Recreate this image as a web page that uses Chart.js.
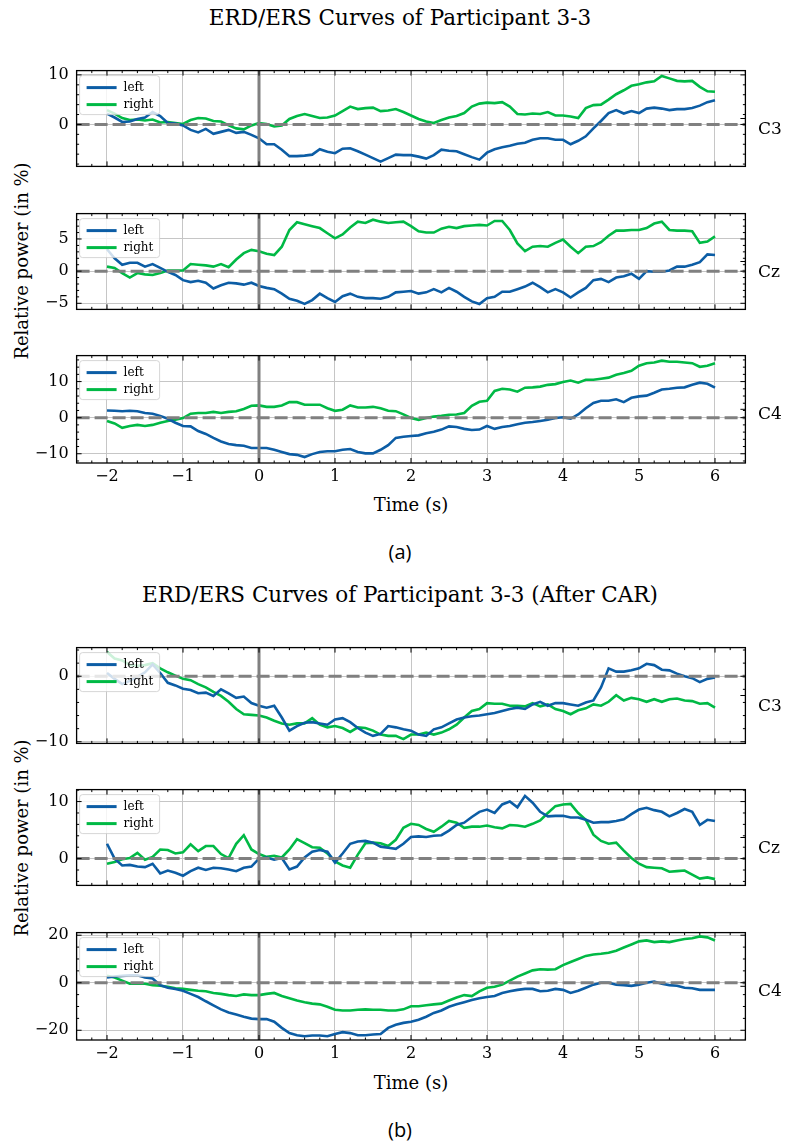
<!DOCTYPE html>
<html>
<head>
<meta charset="utf-8">
<title>ERD/ERS Curves of Participant 3-3</title>
<script src="https://cdn.jsdelivr.net/npm/chart.js@4.4.1/dist/chart.umd.min.js"></script>
<style>
  body { margin: 0; background: #fff; }
  #page { position: relative; width: 789px; height: 1148px; overflow: hidden; font-family: "DejaVu Serif", serif; color: #000; }
  .lbl { position: absolute; white-space: nowrap; line-height: 1; transform: translate(-50%, -50%); }
  .side { position: absolute; white-space: nowrap; line-height: 1; transform: translateY(-50%); font-size: 17px; }
  .cap { font-family: "Open Sans", sans-serif; font-size: 20px; }
  canvas { position: absolute; left: 0; }
</style>
</head>
<body>
<div id="page">
  <div class="lbl" style="left:400px;top:18px;font-size:21.5px">ERD/ERS Curves of Participant 3-3</div>
  <div class="lbl" style="left:22px;top:261px;font-size:18px;transform:translate(-50%,-50%) rotate(-90deg)">Relative power (in %)</div>
  <div class="lbl" style="left:411px;top:505px;font-size:18px">Time (s)</div>
  <div class="lbl cap" style="left:400px;top:552px">(a)</div>

  <div class="lbl" style="left:400px;top:595px;font-size:21.5px">ERD/ERS Curves of Participant 3-3 (After CAR)</div>
  <div class="lbl" style="left:22px;top:838px;font-size:18px;transform:translate(-50%,-50%) rotate(-90deg)">Relative power (in %)</div>
  <div class="lbl" style="left:411px;top:1083px;font-size:18px">Time (s)</div>
  <div class="lbl cap" style="left:400px;top:1130px">(b)</div>
</div>
<script>
// time axis (s), 0.1 s steps
const times = [
  -2.0, -1.9, -1.8, -1.7, -1.6, -1.5, -1.4, -1.3, -1.2, -1.1,
  -1.0, -0.9, -0.8, -0.7, -0.6, -0.5, -0.4, -0.3, -0.2, -0.1,
  0.0, 0.1, 0.2, 0.3, 0.4, 0.5, 0.6, 0.7, 0.8, 0.9,
  1.0, 1.1, 1.2, 1.3, 1.4, 1.5, 1.6, 1.7, 1.8, 1.9,
  2.0, 2.1, 2.2, 2.3, 2.4, 2.5, 2.6, 2.7, 2.8, 2.9,
  3.0, 3.1, 3.2, 3.3, 3.4, 3.5, 3.6, 3.7, 3.8, 3.9,
  4.0, 4.1, 4.2, 4.3, 4.4, 4.5, 4.6, 4.7, 4.8, 4.9,
  5.0, 5.1, 5.2, 5.3, 5.4, 5.5, 5.6, 5.7, 5.8, 5.9,
  6.0
];

// (a) raw curves
const aC3Left = [
  2.2, 1.4, 0.5, 0.6, 1.1, 1.4, 2.5, 1.7, 0.3, 0.2,
  -0.2, -1.1, -1.6, -0.9, -1.9, -1.5, -1.1, -1.7, -1.5, -2.1,
  -2.8, -4.0, -4.0, -5.1, -6.4, -6.4, -6.3, -6.1, -5.0, -5.5,
  -5.8, -4.9, -4.8, -5.4, -6.1, -6.8, -7.5, -6.8, -6.1, -6.2,
  -6.2, -6.5, -6.9, -6.2, -5.1, -5.3, -5.4, -6.0, -6.6, -7.1,
  -5.7, -5.0, -4.6, -4.3, -3.9, -3.7, -3.1, -2.8, -2.8, -3.1,
  -3.1, -4.0, -3.3, -2.4, -0.8, 0.7, 2.3, 2.9, 2.2, 2.7,
  2.3, 3.2, 3.4, 3.2, 2.9, 3.1, 3.1, 3.3, 3.8, 4.5,
  4.9
];
const aC3Right = [
  2.9, 2.2, 1.3, 0.9, 1.0, 0.8, 1.0, 0.4, 0.5, 0.3,
  0.1, 0.9, 1.3, 1.2, 0.7, 0.6, -0.2, -0.8, -1.0, -0.2,
  0.3, 0.1, -0.4, -0.2, 1.1, 1.7, 2.1, 1.7, 1.3, 1.4,
  1.8, 2.7, 3.6, 3.1, 3.3, 3.4, 2.7, 2.8, 3.1, 2.5,
  1.8, 1.1, 0.6, 0.3, 0.9, 1.4, 1.7, 2.3, 3.6, 4.2,
  4.4, 4.3, 4.5, 3.6, 2.1, 2.0, 2.2, 2.1, 2.5, 1.8,
  1.8, 1.6, 1.3, 3.3, 3.9, 4.0, 5.0, 6.1, 6.9, 7.8,
  8.1, 8.5, 8.7, 9.8, 9.3, 8.8, 8.7, 8.8, 7.6, 6.7,
  6.6
];
const aCzLeft = [
  3.4, 2.0, 1.0, 1.3, 1.3, 0.7, 1.1, 0.5, -0.1, -0.6,
  -1.4, -1.7, -1.5, -1.8, -2.7, -2.2, -1.8, -1.9, -2.1, -1.8,
  -2.3, -2.6, -2.8, -3.5, -4.3, -4.6, -5.1, -4.5, -3.5, -4.2,
  -4.8, -3.9, -3.5, -4.0, -4.2, -4.2, -4.3, -4.0, -3.3, -3.2,
  -3.1, -3.5, -3.3, -2.8, -3.3, -2.6, -3.2, -4.0, -4.7, -5.1,
  -4.2, -4.0, -3.2, -3.2, -2.8, -2.4, -1.8, -2.5, -3.3, -2.8,
  -3.3, -4.1, -3.3, -2.6, -1.4, -1.2, -1.7, -1.0, -0.8, -0.4,
  -1.2, 0.0, -0.1, -0.1, 0.1, 0.7, 0.7, 1.0, 1.4, 2.6,
  2.5
];
const aCzRight = [
  0.7, 0.5, -0.3, -1.0, -0.3, -0.5, -0.6, -0.3, 0.1, 0.1,
  0.1, 1.1, 1.0, 0.9, 0.7, 1.1, 0.6, 1.8, 2.8, 3.3,
  3.1, 2.7, 2.5, 3.8, 6.4, 7.6, 7.3, 7.0, 6.7, 5.9,
  5.1, 5.7, 6.8, 7.7, 7.5, 8.0, 7.7, 7.5, 7.6, 7.7,
  7.0, 6.2, 6.0, 6.0, 6.6, 6.9, 6.7, 7.0, 7.1, 7.2,
  7.1, 7.8, 7.8, 6.4, 4.3, 3.1, 3.8, 3.9, 3.8, 4.4,
  4.9, 3.8, 2.8, 3.8, 3.9, 4.5, 5.5, 6.3, 6.3, 6.4,
  6.4, 6.7, 7.4, 7.7, 6.4, 6.3, 6.3, 6.2, 4.4, 4.6,
  5.4
];
const aC4Left = [
  2.0, 1.9, 1.8, 1.9, 1.8, 1.3, 1.1, 0.5, -0.3, -1.4,
  -2.3, -2.4, -3.7, -4.5, -5.6, -6.6, -7.3, -7.6, -7.8, -8.4,
  -8.4, -8.4, -8.9, -9.5, -10.1, -10.3, -10.9, -10.1, -9.5, -9.3,
  -9.3, -8.9, -8.7, -9.5, -9.9, -9.9, -8.9, -7.6, -5.6, -5.3,
  -5.1, -4.9, -4.3, -3.9, -3.3, -2.4, -2.6, -3.1, -3.4, -3.3,
  -2.3, -3.1, -2.6, -2.3, -1.8, -1.4, -1.2, -0.9, -0.6, -0.1,
  0.1, -0.3, 0.9, 2.6, 4.1, 4.7, 4.7, 5.1, 4.3, 5.5,
  5.9, 6.1, 6.9, 7.8, 8.0, 8.3, 8.4, 9.1, 9.7, 9.4,
  8.3
];
const aC4Right = [
  -0.9, -1.6, -2.8, -2.3, -2.0, -2.3, -2.0, -1.4, -0.9, -0.6,
  -0.1, 1.1, 1.3, 1.3, 1.6, 1.3, 1.6, 1.8, 2.4, 3.3,
  3.4, 3.0, 3.0, 3.4, 4.3, 4.3, 3.6, 3.6, 3.6, 2.6,
  1.9, 2.2, 3.4, 2.8, 2.8, 3.0, 2.6, 1.9, 1.8, 0.9,
  -0.1, -0.6, -0.1, 0.3, 0.5, 0.8, 0.9, 1.3, 3.3, 4.4,
  4.7, 7.4, 8.0, 7.8, 7.2, 8.3, 8.4, 8.6, 9.1, 9.3,
  9.9, 10.3, 9.7, 10.5, 10.5, 10.8, 11.1, 11.9, 12.4, 13.0,
  14.4, 15.1, 15.3, 15.8, 15.5, 15.5, 15.3, 15.1, 14.1, 14.4,
  15.1
];

// (b) after common average reference
const bC3Left = [
  0.5, -0.4, -1.2, -0.7, -0.1, 0.6, 1.8, 0.5, -1.0, -1.4,
  -1.9, -2.1, -2.6, -2.5, -3.0, -2.0, -2.6, -3.3, -3.1, -4.1,
  -4.5, -4.8, -4.5, -6.3, -8.3, -7.6, -7.1, -7.0, -7.2, -7.4,
  -6.6, -6.4, -7.0, -7.9, -8.6, -9.1, -8.8, -7.6, -7.8, -8.1,
  -8.3, -8.9, -9.1, -8.1, -7.8, -7.2, -6.6, -6.3, -6.1, -6.0,
  -5.8, -5.6, -5.3, -5.0, -4.8, -5.0, -4.3, -3.9, -4.5, -4.1,
  -4.1, -4.3, -4.5, -4.0, -3.7, -1.7, 1.2, 0.7, 0.7, 0.9,
  1.2, 1.9, 1.7, 1.0, 0.9, 0.4, 0.0, -0.3, -0.9, -0.4,
  -0.2
];
const bC3Right = [
  3.7, 2.7, 2.4, 1.7, 1.6, 1.7, 2.0, 1.2, 0.6, 0.1,
  -0.4, -0.6, -1.2, -1.7, -2.4, -3.0, -3.9, -5.0, -5.8, -5.9,
  -6.0, -6.3, -6.8, -7.2, -7.4, -7.2, -7.2, -6.4, -7.4, -7.8,
  -7.6, -7.9, -8.5, -7.8, -7.9, -8.3, -8.9, -9.1, -9.1, -9.6,
  -8.9, -8.9, -8.6, -8.9, -8.6, -8.1, -7.4, -6.3, -5.3, -5.0,
  -4.1, -4.2, -4.2, -4.5, -4.5, -4.6, -4.1, -4.6, -4.3, -5.0,
  -5.3, -5.8, -5.2, -4.9, -4.3, -4.5, -3.9, -2.9, -3.7, -3.3,
  -3.5, -3.9, -3.5, -3.9, -3.5, -3.4, -3.7, -3.8, -4.2, -4.1,
  -4.8
];
const bCzLeft = [
  2.6, 0.0, -1.2, -1.1, -1.4, -1.5, -0.9, -2.6, -2.1, -2.5,
  -3.0, -2.2, -1.6, -2.0, -1.6, -1.7, -1.9, -2.2, -1.6, -1.4,
  0.0, 0.2, -0.2, 0.1, -1.9, -1.4, 0.2, 1.2, 1.5, 1.2,
  -0.7, 0.9, 2.6, 3.0, 3.1, 2.8, 2.1, 1.9, 1.7, 2.6,
  3.8, 3.9, 3.8, 4.0, 4.1, 4.9, 5.9, 6.3, 7.3, 8.2,
  8.6, 8.0, 9.5, 10.0, 9.0, 11.0, 9.8, 8.2, 7.4, 7.5,
  7.5, 7.2, 7.2, 6.8, 6.3, 6.4, 6.4, 6.6, 6.9, 7.8,
  8.6, 8.9, 8.5, 8.2, 7.4, 8.0, 8.7, 8.2, 5.9, 6.8,
  6.6
];
const bCzRight = [
  -0.9, -0.6, -0.1, 0.1, 1.0, -0.2, 0.3, 1.6, 1.5, 0.9,
  1.1, 2.5, 1.3, 2.2, 2.2, 0.8, 0.1, 2.6, 4.1, 1.6,
  0.8, 0.3, 0.5, 0.2, 1.6, 3.4, 2.7, 2.0, 1.9, 0.9,
  -0.5, -1.2, -1.6, 0.7, 2.7, 2.8, 2.7, 2.2, 3.3, 5.4,
  6.1, 5.9, 5.2, 4.7, 5.6, 6.6, 6.3, 5.4, 5.6, 5.6,
  5.8, 5.5, 5.3, 5.9, 5.8, 5.6, 6.1, 6.7, 8.0, 9.2,
  9.5, 9.6, 8.0, 6.8, 4.2, 3.1, 2.6, 2.8, 1.4, 0.1,
  -0.9, -1.5, -1.6, -1.7, -2.3, -2.2, -2.1, -2.8, -3.5, -3.3,
  -3.6
];
const bC4Left = [
  2.2, 2.6, 2.9, 3.1, 3.1, 2.2, 1.8, -1.0, -2.1, -2.6,
  -3.4, -4.7, -6.0, -7.8, -9.5, -11.2, -12.5, -13.4, -14.3, -15.1,
  -15.3, -15.3, -16.4, -19.0, -21.2, -22.1, -22.5, -22.2, -22.2, -22.5,
  -21.6, -20.8, -21.2, -22.1, -22.1, -21.8, -21.6, -19.0, -17.7, -16.9,
  -16.4, -15.6, -14.3, -12.7, -11.7, -10.1, -9.1, -8.2, -7.3, -6.5,
  -6.0, -5.6, -4.3, -3.6, -3.0, -2.6, -2.6, -3.6, -3.4, -2.6,
  -3.0, -4.3, -3.4, -2.1, -0.8, 0.0, 0.0, -0.8, -1.0, -1.3,
  -0.8, 0.0, 0.5, -0.4, -1.0, -1.3, -2.1, -2.3, -3.0, -3.0,
  -3.0
];
const bC4Right = [
  2.9, 2.2, 0.9, -0.4, -0.4, -0.4, -1.0, -1.3, -1.7, -2.3,
  -2.6, -3.0, -3.4, -3.6, -4.3, -4.7, -5.2, -5.6, -4.9, -5.2,
  -5.2, -4.7, -4.3, -5.6, -6.5, -7.5, -8.2, -8.8, -9.1, -10.1,
  -11.4, -11.7, -11.7, -11.4, -11.2, -11.4, -11.4, -11.7, -11.7, -11.2,
  -9.9, -9.9, -9.5, -9.1, -8.8, -7.5, -6.2, -5.2, -5.6, -3.6,
  -2.1, -1.7, -0.8, 0.9, 2.6, 3.9, 5.2, 5.7, 5.5, 5.7,
  7.4, 8.7, 10.0, 11.3, 11.9, 12.2, 12.6, 13.5, 14.8, 16.1,
  17.4, 17.8, 17.1, 17.4, 17.1, 17.8, 18.4, 18.7, 19.5, 19.1,
  17.8
];

const seriesNames = ['left', 'right'];
const seriesColors = ['#0C5DA5', '#00B945'];

const panels = [
  { name: 'C3', top: 59,  yMin: -8.47, yMax: 10.87, major: 10, minor: 2, data: [aC3Left, aC3Right], showX: false },
  { name: 'Cz', top: 202, yMin: -5.95, yMax: 8.95,  major: 5,  minor: 1, data: [aCzLeft, aCzRight], showX: false },
  { name: 'C4', top: 344, yMin: -12.56, yMax: 17.2, major: 10, minor: 2, data: [aC4Left, aC4Right], showX: true },
  { name: 'C3', top: 636, yMin: -10.25, yMax: 4.37, major: 10, minor: 2, data: [bC3Left, bC3Right], showX: false },
  { name: 'Cz', top: 778, yMin: -4.7,  yMax: 12.1,  major: 10, minor: 2, data: [bCzLeft, bCzRight], showX: false },
  { name: 'C4', top: 921, yMin: -24.1, yMax: 21.1,  major: 20, minor: 5, data: [bC4Left, bC4Right], showX: true }
];

const PLOT_H = 119, PLOT_L = 76.6, PLOT_R = 745.4, PAD = 6, XAX_H = 26;
const GRID = '#c6c6c6';

Chart.defaults.font.family = '"DejaVu Serif", serif';
Chart.defaults.color = '#000';

const isMajor = (v, step) => Math.abs(v / step - Math.round(v / step)) < 1e-6;
const fmt = v => (v < 0 ? '\u2212' + Math.abs(v) : String(v));

// zero lines, legend box, frame and inward ticks (matplotlib look)
const decor = {
  id: 'decor',
  afterDatasetsDraw(chart, args, opts) {
    const { ctx, chartArea: a, scales: { x, y } } = chart;
    ctx.save();
    ctx.beginPath();
    ctx.rect(a.left, a.top, a.width, a.height);
    ctx.clip();
    ctx.strokeStyle = '#808080';
    ctx.lineWidth = 3;
    ctx.setLineDash([13, 5]);
    const y0 = y.getPixelForValue(0);
    ctx.beginPath();
    ctx.moveTo(a.left, y0);
    ctx.lineTo(a.right, y0);
    ctx.stroke();
    ctx.setLineDash([]);
    const x0 = x.getPixelForValue(0);
    ctx.beginPath();
    ctx.moveTo(x0, a.top);
    ctx.lineTo(x0, a.bottom);
    ctx.stroke();
    ctx.restore();

    // legend
    const lx = a.left + 3, ly = a.top + 5, lw = 80, lh = 39;
    ctx.save();
    ctx.beginPath();
    ctx.roundRect(lx, ly, lw, lh, 3);
    ctx.fillStyle = 'rgba(255,255,255,0.8)';
    ctx.fill();
    ctx.strokeStyle = 'rgba(204,204,204,0.8)';
    ctx.lineWidth = 1;
    ctx.stroke();
    chart.data.datasets.forEach((ds, i) => {
      const yy = ly + 12 + i * 17;
      ctx.strokeStyle = ds.borderColor;
      ctx.lineWidth = 3;
      ctx.beginPath();
      ctx.moveTo(lx + 7, yy);
      ctx.lineTo(lx + 37, yy);
      ctx.stroke();
      ctx.fillStyle = '#000';
      ctx.font = '12px "DejaVu Serif"';
      ctx.textBaseline = 'middle';
      ctx.fillText(ds.label, lx + 44, yy);
    });
    ctx.restore();
  },
  afterDraw(chart, args, opts) {
    const { ctx, chartArea: a, scales: { x, y } } = chart;
    ctx.save();
    ctx.strokeStyle = '#000';
    ctx.lineWidth = 1;
    x.ticks.forEach(t => {
      if (!isMajor(t.value, opts.xMinor)) return;
      const px = x.getPixelForValue(t.value);
      const L = isMajor(t.value, opts.xMajor) ? 5 : 2.5;
      ctx.beginPath();
      ctx.moveTo(px, a.bottom); ctx.lineTo(px, a.bottom - L);
      ctx.moveTo(px, a.top); ctx.lineTo(px, a.top + L);
      ctx.stroke();
    });
    y.ticks.forEach(t => {
      if (!isMajor(t.value, opts.yMinor)) return;
      const py = y.getPixelForValue(t.value);
      const L = isMajor(t.value, opts.yMajor) ? 5 : 2.5;
      ctx.beginPath();
      ctx.moveTo(a.left, py); ctx.lineTo(a.left + L, py);
      ctx.moveTo(a.right, py); ctx.lineTo(a.right - L, py);
      ctx.stroke();
    });
    const ym = (a.top + a.bottom) / 2;
    ctx.beginPath();
    ctx.moveTo(a.right, ym); ctx.lineTo(a.right - 5, ym);
    ctx.stroke();
    ctx.lineWidth = 1.3;
    ctx.strokeRect(a.left, a.top, a.width, a.height);
    ctx.restore();
  }
};

const page = document.getElementById('page');

panels.forEach(p => {
  const canvas = document.createElement('canvas');
  const h = PAD + PLOT_H + (p.showX ? XAX_H : PAD);
  canvas.width = 789;
  canvas.height = h;
  canvas.style.top = (p.top - PAD) + 'px';
  page.appendChild(canvas);

  const side = document.createElement('div');
  side.className = 'side';
  side.style.left = '758px';
  side.style.top = (p.top + PLOT_H / 2 + 9) + 'px';
  side.textContent = p.name;
  page.appendChild(side);

  new Chart(canvas, {
    type: 'line',
    data: {
      datasets: p.data.map((vals, k) => ({
        label: seriesNames[k],
        data: vals.map((v, i) => ({ x: times[i], y: v })),
        borderColor: seriesColors[k],
        borderWidth: 2.6,
        pointRadius: 0,
        tension: 0,
        fill: false
      }))
    },
    options: {
      responsive: false,
      animation: false,
      devicePixelRatio: 1,
      layout: { padding: { top: PAD, right: 789 - PLOT_R, bottom: p.showX ? 0 : PAD, left: 0 } },
      plugins: {
        legend: { display: false },
        tooltip: { enabled: false },
        decor: { xMajor: 1, xMinor: 0.2, yMajor: p.major, yMinor: p.minor }
      },
      scales: {
        x: {
          type: 'linear',
          min: -2.4,
          max: 6.4,
          bounds: 'data',
          afterFit: s => { s.height = p.showX ? XAX_H : 0; },
          border: { display: false },
          grid: {
            drawTicks: false,
            lineWidth: 1,
            color: c => (c.tick && isMajor(c.tick.value, 1)) ? GRID : 'rgba(0,0,0,0)'
          },
          ticks: {
            display: p.showX,
            stepSize: 0.2,
            includeBounds: false,
            autoSkip: false,
            maxRotation: 0,
            maxTicksLimit: 1000,
            padding: 4,
            font: { size: 16 },
            callback: v => isMajor(v, 1) ? fmt(Math.round(v)) : ''
          }
        },
        y: {
          type: 'linear',
          min: p.yMin,
          max: p.yMax,
          bounds: 'data',
          afterFit: s => { s.width = PLOT_L; },
          // minor ticks on multiples of the minor step inside the axis range
          afterBuildTicks: axis => {
            const out = [];
            for (let v = Math.ceil(p.yMin / p.minor) * p.minor; v <= p.yMax + 1e-9; v += p.minor) {
              out.push({ value: Math.round(v * 1000) / 1000 });
            }
            axis.ticks = out;
          },
          border: { display: false },
          grid: {
            drawTicks: false,
            lineWidth: 1,
            color: c => (c.tick && isMajor(c.tick.value, p.major)) ? GRID : 'rgba(0,0,0,0)'
          },
          ticks: {
            autoSkip: false,
            padding: 8,
            font: { size: 16 },
            callback: v => isMajor(v, p.major) ? fmt(Math.round(v)) : ''
          }
        }
      }
    },
    plugins: [decor]
  });
});
</script>
</body>
</html>
